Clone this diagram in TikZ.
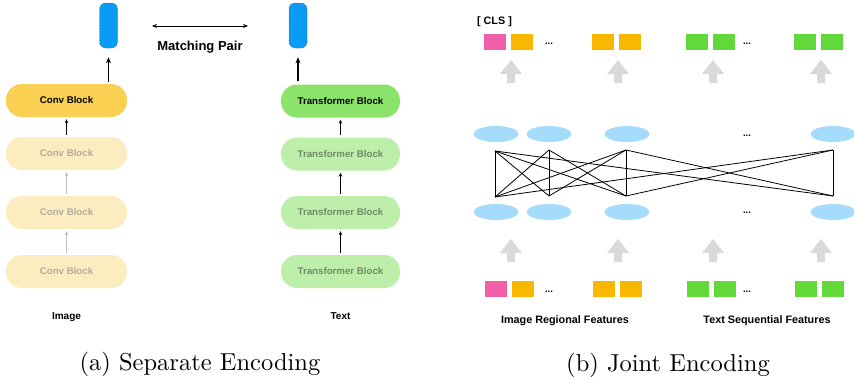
\documentclass[tikz,border=0pt]{standalone}
\usepackage{fontspec}
\newfontfamily\lsans{Liberation Sans}
\usetikzlibrary{arrows.meta,shapes.geometric}
\definecolor{capblue}{HTML}{0A9BF5}
\definecolor{convA}{HTML}{F9D052}
\definecolor{convB}{HTML}{FCEDC1}
\definecolor{trA}{HTML}{8BE36B}
\definecolor{trB}{HTML}{BDEFAA}
\definecolor{fadetxt}{HTML}{B2AC9C}
\definecolor{fadetxtg}{HTML}{6F8A68}
\definecolor{ellblue}{HTML}{A6DCFB}
\definecolor{sqpink}{HTML}{F060A8}
\definecolor{sqorange}{HTML}{F8B800}
\definecolor{sqgreen}{HTML}{62D83A}
\definecolor{arrgray}{HTML}{D9D9D9}
\definecolor{fadearr}{HTML}{BDBDBD}
\tikzset{
  capsule/.style={draw=black!70, densely dotted, line width=0.5pt, fill=capblue, rounded corners=6pt, minimum width=18pt, minimum height=45pt, inner sep=0pt},
  blockbox/.style={rounded corners=16pt, minimum width=121pt, minimum height=33pt, inner sep=0pt, font=\lsans\bfseries\fontsize{9.7}{11}\selectfont},
  convon/.style={blockbox, fill=convA, text=black},
  convoff/.style={blockbox, fill=convB, text=fadetxt},
  tron/.style={blockbox, fill=trA, text=black, minimum width=119pt},
  troff/.style={blockbox, fill=trB, text=fadetxtg, minimum width=119pt},
  upbig/.style={-{Stealth[length=6pt,width=5pt]}, line width=1.3pt},
  upsmall/.style={-{Stealth[length=4pt,width=3.5pt]}, line width=0.8pt, shorten <=2pt, shorten >=2pt},
  upfade/.style={upsmall, draw=fadearr},
  lbl/.style={font=\lsans\bfseries\fontsize{10}{12}\selectfont, inner sep=0pt},
  caption/.style={font=\fontsize{10}{12}\selectfont, inner sep=0pt},
  sq/.style={minimum width=22pt, minimum height=16pt, inner sep=0pt},
  ell/.style={ellipse, fill=ellblue, minimum width=45pt, minimum height=16pt, inner sep=0pt},
  dots/.style={font=\lsans\bfseries\fontsize{9.5}{10}\selectfont, inner sep=0pt},
  edge/.style={line width=0.8pt, draw=black},
  blockarr/.pic={\fill[arrgray] (-4,0) -- (-4,-9) -- (-11,-9) -- (0,-23) -- (11,-9) -- (4,-9) -- (4,0) -- cycle;}
}
\begin{document}
\begin{tikzpicture}[x=1pt,y=-1pt]
\useasboundingbox[fill=white] (0,0) rectangle (854,380);

% ---------- (a) Separate Encoding ----------
\node[capsule] (capL) at (108.5,25.5) {};
\node[capsule] (capR) at (298,25.5) {};
\coordinate (mpL) at (152,26);
\coordinate (mpR) at (248,26);
\draw[{Stealth[length=5pt,width=4pt]}-{Stealth[length=5pt,width=4pt]}, line width=1pt] (mpL) -- (mpR);
\node[font=\lsans\bfseries\fontsize{13}{15}\selectfont, inner sep=0pt] (mp) at (200,47) {Matching Pair};

\node[convon]  (c1) at (66.5,100.5) {Conv Block};
\node[convoff] (c2) at (66.5,153.5) {Conv Block};
\node[convoff] (c3) at (66.5,212.5) {Conv Block};
\node[convoff] (c4) at (66.5,271.5) {Conv Block};

\node[tron]  (t1) at (340.5,101) {Transformer Block};
\node[troff] (t2) at (340.5,154) {Transformer Block};
\node[troff] (t3) at (340.5,212.5) {Transformer Block};
\node[troff] (t4) at (340.5,271.5) {Transformer Block};

\draw[upbig, shorten <=2pt, shorten >=9pt] (c1.north -| capL) -- (capL.south);
\draw[upbig, shorten <=3pt, shorten >=9pt] (t1.north -| capR) -- (capR.south);

\draw[upsmall] (c2.north) -- (c1.south);
\draw[upfade] (c3.north) -- (c2.south);
\draw[upfade] (c4.north) -- (c3.south);
\draw[upsmall] (t2.north) -- (t1.south);
\draw[upsmall] (t3.north) -- (t2.south);
\draw[upsmall] (t4.north) -- (t3.south);

\node[lbl] (imglbl) at (66.5,317) {Image};
\node[lbl] (txtlbl) at (340.5,316) {Text};
\node[caption] (capa) at (200,364) {\scalebox{2.45}{(a) Separate Encoding}};

% ---------- (b) Joint Encoding ----------
\node[font=\lsans\bfseries\fontsize{10.8}{12}\selectfont, inner sep=0pt] (cls) at (494.5,22) {[ CLS ]};

% top squares
\node[sq, fill=sqpink]   (s1) at (495,42) {};
\node[sq, fill=sqorange] (s2) at (522,42) {};
\node[dots] (sd1) at (549,44) {...};
\node[sq, fill=sqorange] (s3) at (603,42) {};
\node[sq, fill=sqorange] (s4) at (630,42) {};
\node[sq, fill=sqgreen]  (s5) at (697,42) {};
\node[sq, fill=sqgreen]  (s6) at (724,42) {};
\node[dots] (sd2) at (747,44) {...};
\node[sq, fill=sqgreen]  (s7) at (805,42) {};
\node[sq, fill=sqgreen]  (s8) at (832,42) {};

% bottom squares
\node[sq, fill=sqpink]   (q1) at (496,289) {};
\node[sq, fill=sqorange] (q2) at (523,289) {};
\node[dots] (qd1) at (549,292) {...};
\node[sq, fill=sqorange] (q3) at (604,289) {};
\node[sq, fill=sqorange] (q4) at (631,289) {};
\node[sq, fill=sqgreen]  (q5) at (698,289) {};
\node[sq, fill=sqgreen]  (q6) at (725,289) {};
\node[dots] (qd2) at (747,292) {...};
\node[sq, fill=sqgreen]  (q7) at (806,289) {};
\node[sq, fill=sqgreen]  (q8) at (833,289) {};

% block arrows
\pic at (511,83) {blockarr};
\pic at (618,83) {blockarr};
\pic at (713,83) {blockarr};
\pic at (821,83) {blockarr};
\pic at (511,262) {blockarr};
\pic at (618,262) {blockarr};
\pic at (713,262) {blockarr};
\pic at (821,262) {blockarr};

% ellipses
\node[ell] (e1) at (496,134) {};
\node[ell] (e2) at (549,134) {};
\node[ell] (e3) at (627,134) {};
\node[dots] (ed1) at (747,136) {...};
\node[ell] (e4) at (833,134) {};
\node[ell] (f1) at (496,212) {};
\node[ell] (f2) at (549,212) {};
\node[ell] (f3) at (627,212) {};
\node[dots] (ed2) at (747,213) {...};
\node[ell] (f4) at (833,212) {};

% connection points
\coordinate (T1) at (495,151);
\coordinate (T2) at (549,150);
\coordinate (T3) at (626,150);
\coordinate (T4) at (833,150);
\coordinate (B1) at (495,197);
\coordinate (B2) at (549,196);
\coordinate (B3) at (626,196);
\coordinate (B4) at (833,196);

\draw[edge] (T1) -- (B1);
\draw[edge] (T2) -- (B2);
\draw[edge] (T3) -- (B3);
\draw[edge] (T4) -- (B4);
\draw[edge] (T1) -- (B2);
\draw[edge] (T1) -- (B3);
\draw[edge] (T1) -- (B4);
\draw[edge] (T2) -- (B1);
\draw[edge] (T2) -- (B3);
\draw[edge] (T3) -- (B1);
\draw[edge] (T3) -- (B2);
\draw[edge] (T3) -- (B4);
\draw[edge] (B1) -- (T4);
\draw[edge] (B3) -- (T4);

\node[font=\lsans\bfseries\fontsize{10.8}{12}\selectfont, inner sep=0pt] (irf) at (565,321) {Image Regional Features};
\node[font=\lsans\bfseries\fontsize{10.8}{12}\selectfont, inner sep=0pt] (tsf) at (767,321) {Text Sequential Features};
\node[caption] (capb) at (668,365) {\scalebox{2.45}{(b) Joint Encoding}};
\end{tikzpicture}
\end{document}
